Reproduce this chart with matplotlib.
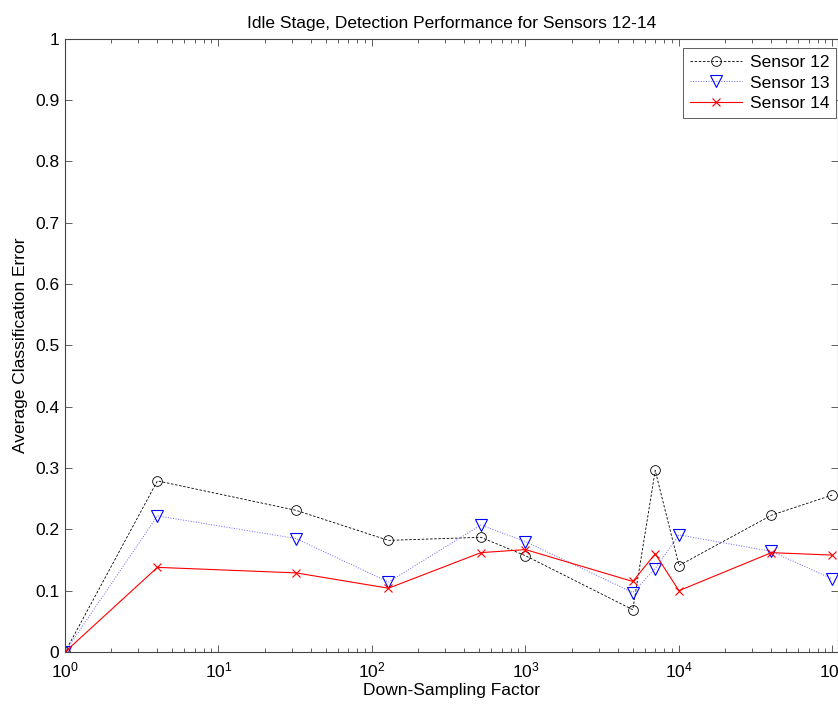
import numpy as np
import matplotlib
matplotlib.use("Agg")
import matplotlib.pyplot as plt
from matplotlib.ticker import LogLocator, NullFormatter

plt.rcParams['font.family'] = ['Liberation Sans', 'DejaVu Sans']
plt.rcParams['mathtext.default'] = 'regular'
plt.rcParams['mathtext.fontset'] = 'custom'
plt.rcParams['mathtext.rm'] = 'Liberation Sans'

# data
factors = [1, 4, 32, 128, 512, 1000, 5000, 7000, 10000, 40000, 100000]
sensor12 = [0.0, 0.279, 0.231, 0.182, 0.187, 0.157, 0.069, 0.296, 0.141, 0.223, 0.256]
sensor13 = [0.0, 0.222, 0.185, 0.114, 0.207, 0.180, 0.097, 0.136, 0.191, 0.164, 0.119]
sensor14 = [0.0, 0.138, 0.129, 0.104, 0.162, 0.167, 0.115, 0.160, 0.100, 0.162, 0.158]
y_ticks = [0, 0.1, 0.2, 0.3, 0.4, 0.5, 0.6, 0.7, 0.8, 0.9, 1]
y_tick_labels = ['0', '0.1', '0.2', '0.3', '0.4', '0.5', '0.6', '0.7', '0.8', '0.9', '1']


def main():
    fs = 12.5
    fig = plt.figure(figsize=(8.38, 7.04), dpi=100)
    ax = fig.add_axes([65 / 838, 52 / 704, 1 - 65 / 838, 613.3 / 704])

    ax.plot(factors, sensor12, color='black', linestyle=(0, (3, 2)), linewidth=0.6,
            marker='o', markersize=7, markerfacecolor='none', markeredgewidth=0.6,
            label='Sensor 12')
    ax.plot(factors, sensor13, color='#6666ff', linestyle=':', linewidth=0.7,
            marker='v', markersize=8, markerfacecolor='none', markeredgecolor='blue',
            markeredgewidth=0.8, label='Sensor 13')
    ax.plot(factors, sensor14, color='red', linestyle='-', linewidth=0.8,
            marker='x', markersize=6, markeredgewidth=0.8, label='Sensor 14')

    ax.set_xscale('log')
    ax.set_xlim(1, 10 ** 5.036)
    ax.set_ylim(0, 1)
    ax.set_yticks(y_ticks)
    ax.set_yticklabels(y_tick_labels)
    ax.xaxis.set_major_locator(LogLocator(base=10, numticks=10))
    ax.xaxis.set_minor_locator(LogLocator(base=10, subs=np.arange(2, 10), numticks=20))
    ax.xaxis.set_minor_formatter(NullFormatter())

    ax.tick_params(which='both', direction='in', top=True, right=True,
                   labelsize=fs, color='#444444', width=0.6, pad=4)
    ax.tick_params(axis='x', which='major', pad=6)
    ax.tick_params(which='major', length=5)
    ax.tick_params(which='minor', length=3)
    for sp in ax.spines.values():
        sp.set_color('#444444')
        sp.set_linewidth(0.8)

    ax.set_title('Idle Stage, Detection Performance for Sensors 12-14', fontsize=fs, pad=8)
    ax.set_xlabel('Down-Sampling Factor', fontsize=fs, labelpad=2)
    ax.set_ylabel('Average Classification Error', fontsize=fs, labelpad=5)

    leg = ax.legend(loc='upper right', fontsize=fs, fancybox=False, framealpha=1,
                    edgecolor='#444444', bbox_to_anchor=(836 / 838, 1 - 47.7 / 704),
                    bbox_transform=fig.transFigure, borderaxespad=0,
                    handlelength=3.0, handletextpad=0.45,
                    borderpad=0.4, labelspacing=0.32)
    leg.get_frame().set_linewidth(0.6)

    fig.savefig('out.png', dpi=100)


if __name__ == "__main__":
    main()
